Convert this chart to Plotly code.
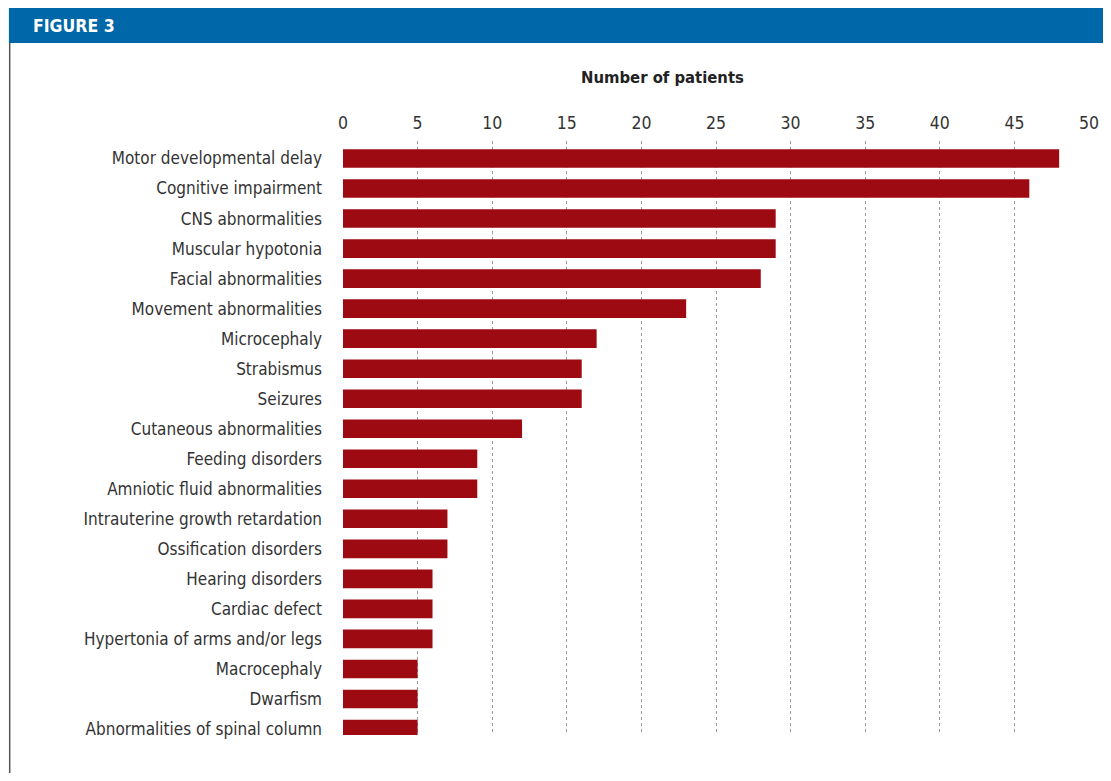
import plotly.graph_objects as go

categories = [
    "Motor developmental delay", "Cognitive impairment", "CNS abnormalities",
    "Muscular hypotonia", "Facial abnormalities", "Movement abnormalities",
    "Microcephaly", "Strabismus", "Seizures", "Cutaneous abnormalities",
    "Feeding disorders", "Amniotic fluid abnormalities",
    "Intrauterine growth retardation", "Ossification disorders",
    "Hearing disorders", "Cardiac defect", "Hypertonia of arms and/or legs",
    "Macrocephaly", "Dwarfism", "Abnormalities of spinal column",
]
patients = [48, 46, 29, 29, 28, 23, 17, 16, 16, 12, 9, 9, 7, 7, 6, 6, 6, 5, 5, 5]
x_ticks = [0, 5, 10, 15, 20, 25, 30, 35, 40, 45, 50]

FONT = "DejaVu Sans Condensed, Liberation Sans Narrow, Arial Narrow, Liberation Sans, Arial, sans-serif"
# page has an 8px body margin; figure is placed at (8, 8)
W, H = 1103, 765
L, R, T, B = 335, 20, 133, 38

fig = go.Figure(go.Bar(
    x=patients, y=categories, orientation="h",
    marker=dict(color="#9E0A12", line=dict(width=0)),
    width=0.62,
))

fig.update_layout(
    width=W, height=H,
    margin=dict(l=L, r=R, t=T, b=B, pad=0),
    paper_bgcolor="white", plot_bgcolor="white",
    showlegend=False,
    font=dict(family=FONT, color="#333333", size=17),
    xaxis=dict(
        side="top", range=[0, 50], tickvals=x_ticks, ticktext=[str(v) for v in x_ticks],
        showgrid=True, gridcolor="#999999", griddash="dot", gridwidth=1,
        zeroline=False, showline=False, ticks="", ticklabelstandoff=8,
        tickfont=dict(size=17.5, family=FONT, color="#333333"),
    ),
    yaxis=dict(
        categoryorder="array", categoryarray=categories,
        range=[19.2, -0.583], showgrid=False, zeroline=False, showline=False,
        ticks="", ticklabelstandoff=20,
        tickfont=dict(size=17, family=FONT, color="#333333"),
    ),
)

plot_w = W - L - R
plot_h = H - T - B
def px_x(p):
    return (p - L) / plot_w
def px_y(p):
    return (H - B - p) / plot_h

fig.layout.shapes = [
    dict(type="rect", xref="paper", yref="paper",
         x0=px_x(0), x1=px_x(W), y0=px_y(35), y1=px_y(0),
         fillcolor="#0067A9", line=dict(width=0), layer="below"),
    dict(type="line", xref="paper", yref="paper",
         x0=px_x(0.8), x1=px_x(0.8), y0=px_y(35), y1=px_y(H),
         line=dict(color="#555555", width=1.5)),
]

fig.add_annotation(
    xref="paper", yref="paper", x=px_x(22), y=px_y(18),
    xanchor="left", yanchor="middle", showarrow=False,
    text="<b>FIGURE 3</b>", font=dict(family=FONT, size=17.5, color="white"),
)
fig.add_annotation(
    xref="paper", yref="paper", x=px_x(655), y=px_y(69),
    xanchor="center", yanchor="middle", showarrow=False,
    text="<b>Number of patients</b>", font=dict(family=FONT, size=16.5, color="#222222"),
)

fig.write_html("out.html")
